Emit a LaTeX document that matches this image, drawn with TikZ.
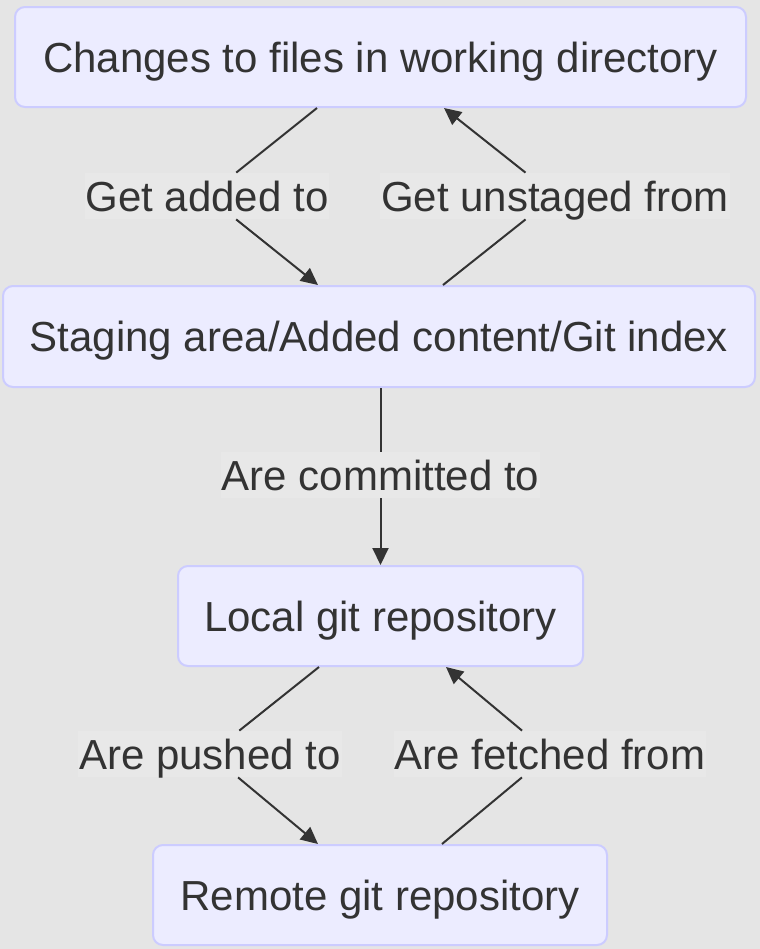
\documentclass[tikz,border=0pt]{standalone}
\usepackage{fontspec}
\setmainfont{Liberation Sans}
\usetikzlibrary{arrows.meta,calc}
\definecolor{bgc}{HTML}{E5E5E5}
\definecolor{boxfill}{HTML}{ECECFF}
\definecolor{boxline}{HTML}{CCCCFF}
\definecolor{ink}{HTML}{333333}
\definecolor{labfill}{HTML}{E8E8E8}
\begin{document}
\begin{tikzpicture}[x=0.5pt,y=-0.5pt,
  box/.style={draw=boxline,fill=boxfill,line width=1pt,rounded corners=5pt,
    inner sep=0pt,minimum height=50pt,text=ink,font=\fontsize{21}{25}\selectfont,
    text height=15pt,text depth=0pt},
  lab/.style={fill=labfill,inner xsep=0.5pt,inner ysep=4pt,text=ink,
    font=\fontsize{21}{25}\selectfont,text height=15pt,text depth=0pt},
  conn/.style={draw=ink,line width=1pt},
  arr/.style={conn,-{Triangle[length=8.5pt,width=8pt]}}]
\useasboundingbox[fill=bgc] (0,0) rectangle (760,949);
% nodes
\node[box,minimum width=365.5pt] (n1) at (380.5,57) {Changes to files in working directory};
\node[box,minimum width=376pt,minimum height=50.5pt] (n2) at (379,336.5) {Staging area/Added content/Git index};
\node[box,minimum width=202.5pt] (n3) at (380.5,616) {Local git repository};
\node[box,minimum width=227pt] (n4) at (380,895) {Remote git repository};
% labels
\node[lab] (l1) at (207,196) {Get added to};
\node[lab] (l2) at (555,196) {Get unstaged from};
\node[lab] (l3) at (380.5,475) {Are committed to};
\node[lab] (l4) at (210,754) {Are pushed to};
\node[lab] (l5) at (550,754) {Are fetched from};
% connectors
\draw[arr] ($(n1.south)+(-63.5,0)$) -- (l1) -- ($(n2.north)+(-61,0)$);
\draw[arr] ($(n2.north)+(64,0)$) -- (l2) -- ($(n1.south)+(63.5,0)$);
\draw[arr] (n2.south -| n3.north) -- (l3) -- (n3.north);
\draw[arr] ($(n3.south)+(-61.5,0)$) -- (l4) -- ($(n4.north)+(-62,0)$);
\draw[arr] ($(n4.north)+(62,0)$) -- (l5) -- ($(n3.south)+(65.5,0)$);
\end{tikzpicture}
\end{document}
